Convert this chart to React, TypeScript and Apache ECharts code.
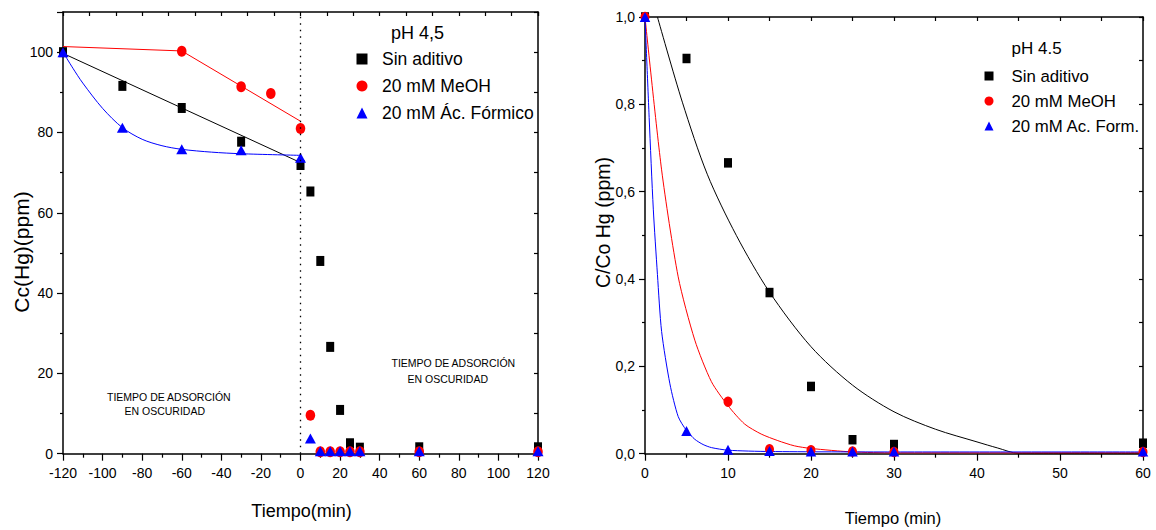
import React, { useEffect, useRef } from "react";
import * as echarts from "echarts";

// ---------- Left chart data (Cc(Hg) ppm vs time, min) ----------
const leftTimeSin = [-120, -90, -60, -30, 0, 5, 10, 15, 20, 25, 30, 60, 120];
const leftSin = [100, 91.6, 86.1, 77.7, 71.9, 65.3, 48.0, 26.6, 10.9, 2.6, 1.5, 1.6, 1.6];
const leftTimeMeOH = [-60, -30, -15, 0, 5, 10, 15, 20, 25, 30, 60, 120];
const leftMeOH = [100.2, 91.4, 89.7, 81.0, 9.6, 0.5, 0.5, 0.5, 0.5, 0.5, 0.5, 0.5];
const leftTimeForm = [-120, -90, -60, -30, 0, 5, 10, 15, 20, 25, 30, 60, 120];
const leftForm = [100, 81.2, 75.8, 75.6, 73.7, 3.8, 0.6, 0.6, 0.6, 0.6, 0.6, 0.6, 0.6];

// fitted lines
const leftFitSinT = [-120, 0];
const leftFitSin = [99.7, 72.5];
const leftFitMeOHT = [-120, -60, 0];
const leftFitMeOH = [101.4, 100.3, 82.8];
const leftFitFormT = [-120, -115, -110, -100, -90, -80, -70, -60, -45, -30, 0];
const leftFitForm = [100, 96, 92.3, 86, 81.2, 78.3, 76.7, 75.8, 75.1, 74.7, 74.3];

const leftXTicks = { min: -120, max: 120, interval: 20 };
const leftYTicks = { min: 0, max: 110, interval: 20 };

// ---------- Right chart data (C/Co vs time, min) ----------
const rightTimeSin = [0, 5, 10, 15, 20, 25, 30, 60];
const rightSin = [1.0, 0.905, 0.666, 0.369, 0.154, 0.032, 0.021, 0.024];
const rightTimeMeOH = [0, 10, 15, 20, 25, 30, 60];
const rightMeOH = [1.0, 0.119, 0.01, 0.008, 0.005, 0.004, 0.004];
const rightTimeForm = [0, 5, 10, 15, 20, 25, 30, 60];
const rightForm = [1.0, 0.052, 0.009, 0.006, 0.005, 0.005, 0.005, 0.005];

const rightFitSinT = [1.5, 4.5, 7.5, 11, 15, 20, 25, 30, 35, 40, 42.5, 45, 60];
const rightFitSin = [1.0, 0.805, 0.64, 0.5, 0.37, 0.245, 0.157, 0.096, 0.056, 0.027, 0.013, 0.001, 0.001];
const rightFitMeOHT = [0, 2, 4, 6, 8, 10, 12, 14, 16, 18, 20, 25, 30, 60];
const rightFitMeOH = [1.0, 0.65, 0.405, 0.26, 0.165, 0.11, 0.068, 0.045, 0.03, 0.018, 0.012, 0.004, 0.002, 0.002];
const rightFitFormT = [0, 0.5, 1, 1.5, 2, 3, 4, 5, 6, 7, 8, 10, 15, 30, 60];
const rightFitForm = [1.0, 0.77, 0.56, 0.41, 0.28, 0.16, 0.085, 0.053, 0.033, 0.021, 0.014, 0.008, 0.005, 0.004, 0.004];

const rightXTicks = { min: 0, max: 60, interval: 10 };
const rightYTicks = { min: 0, max: 1, interval: 0.2 };

const NAME_SIN = "Sin aditivo";
const NAME_MEOH = "20 mM MeOH";
const NAME_FORM_L = "20 mM Ác. Fórmico";
const NAME_FORM_R = "20 mM Ac. Form.";

const FONT = "'Liberation Sans', Arial, Helvetica, sans-serif";
const BLACK = "#000000";
const RED = "#ff0000";
const BLUE = "#0000ff";

const zip = (xs: number[], ys: number[]) => xs.map((x, i) => [x, ys[i]]);

function bottomAxis(gridIndex: number, t: any, fmt?: (v: number) => string) {
  return {
    type: "value",
    gridIndex,
    position: "bottom",
    min: t.min,
    max: t.max,
    interval: t.interval,
    axisLine: { show: true, onZero: false, lineStyle: { color: BLACK, width: 1.5 } },
    axisTick: { show: true, inside: false, length: 7, lineStyle: { color: BLACK, width: 1.2 } },
    minorTick: { show: true, splitNumber: 2, length: 4, lineStyle: { color: BLACK, width: 1.2 } },
    axisLabel: { show: true, color: BLACK, fontSize: 14, fontFamily: FONT, margin: 12, formatter: fmt },
    splitLine: { show: false },
    minorSplitLine: { show: false },
  };
}

function leftAxis(gridIndex: number, t: any, fmt?: (v: number) => string) {
  return {
    type: "value",
    gridIndex,
    position: "left",
    min: t.min,
    max: t.max,
    interval: t.interval,
    axisLine: { show: true, onZero: false, lineStyle: { color: BLACK, width: 1.5 } },
    axisTick: { show: true, inside: false, length: 6, lineStyle: { color: BLACK, width: 1.2 } },
    minorTick: { show: true, splitNumber: 2, length: 3, lineStyle: { color: BLACK, width: 1.2 } },
    axisLabel: { show: true, color: BLACK, fontSize: 14, fontFamily: FONT, margin: 10, showMaxLabel: t.max === 1 ? true : false, formatter: fmt },
    splitLine: { show: false },
    minorSplitLine: { show: false },
  };
}

function frameAxis(gridIndex: number, position: string, min: number, max: number, interval: number) {
  return {
    type: "value",
    gridIndex,
    position,
    min,
    max,
    interval,
    axisLine: { show: true, onZero: false, lineStyle: { color: BLACK, width: 1.5 } },
    axisTick: { show: true, inside: true, length: 4, lineStyle: { color: BLACK, width: 1.2 } },
    axisLabel: { show: false },
    splitLine: { show: false },
  };
}

const commaFmt = (v: number) => v.toFixed(1).replace(".", ",");

function lineSeries(name: string, xi: number, yi: number, xs: number[], ys: number[], color: string, smooth: boolean | number, extra: any = {}) {
  return {
    type: "line",
    name,
    xAxisIndex: xi,
    yAxisIndex: yi,
    data: zip(xs, ys),
    showSymbol: false,
    symbol: "none",
    smooth,
    lineStyle: { color, width: 1 },
    itemStyle: { color },
    silent: true,
    z: 1,
    ...extra,
  };
}

function scatterSeries(name: string, xi: number, yi: number, xs: number[], ys: number[], color: string, symbol: string, size: number[]) {
  return {
    type: "scatter",
    name,
    xAxisIndex: xi,
    yAxisIndex: yi,
    data: zip(xs, ys),
    symbol,
    symbolSize: size,
    itemStyle: { color, opacity: 1 },
    clip: true,
    z: 3,
  };
}

function txt(text: string, x: number, y: number, size: number, opts: any = {}) {
  return {
    type: "text",
    x,
    y,
    rotation: opts.rotation || 0,
    silent: true,
    style: {
      text,
      fill: BLACK,
      fontSize: size,
      fontFamily: FONT,
      align: opts.align || "left",
      verticalAlign: "middle",
    },
  };
}

export default function App() {
  const ref = useRef<HTMLDivElement>(null);

  useEffect(() => {
    if (!ref.current) return;
    const chart = echarts.init(ref.current, null, { renderer: "svg" });

    const option: any = {
      animation: false,
      backgroundColor: "#ffffff",
      textStyle: { fontFamily: FONT },
      grid: [
        { left: 63, top: 12, width: 475, height: 441.7, containLabel: false },
        { left: 645, top: 17, width: 498, height: 436.7, containLabel: false },
      ],
      xAxis: [
        bottomAxis(0, leftXTicks),
        frameAxis(0, "top", leftXTicks.min, leftXTicks.max, 40 / 3),
        bottomAxis(1, rightXTicks),
        frameAxis(1, "top", rightXTicks.min, rightXTicks.max, 5),
      ],
      yAxis: [
        leftAxis(0, leftYTicks),
        frameAxis(0, "right", leftYTicks.min, leftYTicks.max, 10),
        leftAxis(1, rightYTicks, commaFmt),
        frameAxis(1, "right", rightYTicks.min, rightYTicks.max, 0.1),
      ],
      legend: [
        {
          selectedMode: false,
          orient: "vertical",
          left: 356.5,
          top: 49,
          padding: 0,
          itemWidth: 11,
          itemHeight: 11,
          itemGap: 7,
          textStyle: { color: BLACK, fontSize: 17.5, fontFamily: FONT, lineHeight: 20, padding: [0, 0, 0, 9.5] },
          data: [
            { name: NAME_SIN, icon: "rect" },
            { name: NAME_MEOH, icon: "circle" },
            { name: NAME_FORM_L, icon: "triangle" },
          ],
        },
        {
          selectedMode: false,
          orient: "vertical",
          left: 984.5,
          top: 67,
          padding: 0,
          itemWidth: 9,
          itemHeight: 9,
          itemGap: 7,
          textStyle: { color: BLACK, fontSize: 16.8, fontFamily: FONT, lineHeight: 18, padding: [0, 0, 0, 13] },
          data: [
            { name: NAME_SIN, icon: "rect" },
            { name: NAME_MEOH, icon: "circle" },
            { name: NAME_FORM_R, icon: "triangle" },
          ],
        },
      ],
      series: [
        lineSeries("ajuste-izq-sin", 0, 0, leftFitSinT, leftFitSin, BLACK, false, {
          markLine: {
            silent: true,
            symbol: ["none", "none"],
            label: { show: false },
            lineStyle: { color: BLACK, width: 1.3, type: [1.5, 5] },
            data: [{ xAxis: 0 }],
          },
        }),
        lineSeries("ajuste-izq-meoh", 0, 0, leftFitMeOHT, leftFitMeOH, RED, false),
        lineSeries("ajuste-izq-form", 0, 0, leftFitFormT, leftFitForm, BLUE, 0.3),
        scatterSeries(NAME_SIN, 0, 0, leftTimeSin, leftSin, BLACK, "rect", [8, 10]),
        scatterSeries(NAME_MEOH, 0, 0, leftTimeMeOH, leftMeOH, RED, "circle", [9.5, 11]),
        scatterSeries(NAME_FORM_L, 0, 0, leftTimeForm, leftForm, BLUE, "triangle", [11, 10]),

        lineSeries("ajuste-der-sin", 2, 2, rightFitSinT, rightFitSin, BLACK, 0.3),
        lineSeries("ajuste-der-meoh", 2, 2, rightFitMeOHT, rightFitMeOH, RED, 0.25),
        lineSeries("ajuste-der-form", 2, 2, rightFitFormT, rightFitForm, BLUE, 0.25),
        scatterSeries(NAME_SIN, 2, 2, rightTimeSin, rightSin, BLACK, "rect", [8, 9.5]),
        scatterSeries(NAME_MEOH, 2, 2, rightTimeMeOH, rightMeOH, RED, "circle", [9, 10.5]),
        scatterSeries(NAME_FORM_R, 2, 2, rightTimeForm, rightForm, BLUE, "triangle", [10.5, 10]),
      ],
      graphic: [
        txt("pH 4,5", 391, 33, 18),
        txt("pH 4.5", 1011.5, 48, 17),
        txt("TIEMPO DE ADSORCIÓN", 107, 397, 10.5),
        txt("EN OSCURIDAD", 124.5, 411, 10.5),
        txt("TIEMPO DE ADSORCIÓN", 391.5, 363, 10.5),
        txt("EN OSCURIDAD", 407.5, 379, 10.5),
        txt("Tiempo(min)", 301.5, 511, 18, { align: "center" }),
        txt("Tiempo (min)", 893, 518, 16.5, { align: "center" }),
        txt("Cc(Hg)(ppm)", 21.7, 252, 21, { align: "center", rotation: Math.PI / 2 }),
        txt("C/Co Hg (ppm)", 603, 222.5, 19.5, { align: "center", rotation: Math.PI / 2 }),
      ],
    };

    chart.setOption(option);
    return () => chart.dispose();
  }, []);

  return (
    <div
      ref={ref}
      style={{ position: "absolute", left: 0, top: 0, width: "1156px", height: "530px", background: "#fff" }}
    />
  );
}
